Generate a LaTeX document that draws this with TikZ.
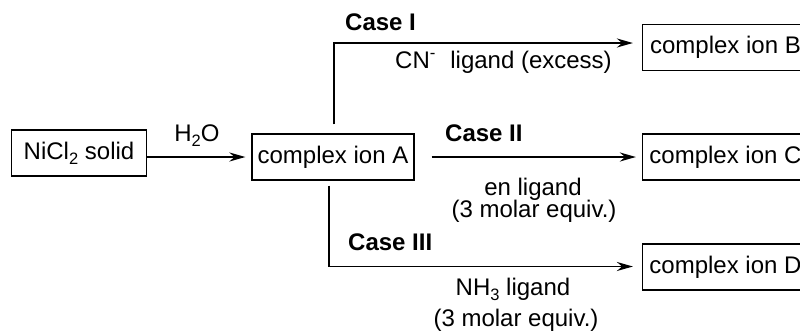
\documentclass[tikz,border=0pt]{standalone}
\usepackage{fontspec}
\setmainfont{Liberation Sans}
\usetikzlibrary{arrows.meta,calc}
\newcommand{\lowsub}[1]{\raisebox{-5pt}{\fontsize{16.5}{16.5}\selectfont #1}}
\begin{document}
\begin{tikzpicture}[x=1pt,y=-1pt,
  font=\fontsize{24}{26}\selectfont,
  box/.style={draw, line width=1.2pt, inner sep=0pt, minimum height=46pt, text height=17pt, text depth=5pt},
  arr/.style={line width=1.9pt, -{Stealth[length=16pt,width=9pt]}},
  lbl/.style={anchor=base, inner sep=0pt},
  lbll/.style={anchor=base west, inner sep=0pt},
  bold/.style={font=\fontsize{24}{26}\selectfont\bfseries}]
\useasboundingbox (0,0) rectangle (800,333);
\clip (0,0) rectangle (800,333);
\node[box, minimum width=135pt] (ni) at (79,153) {NiCl\lowsub{2} solid};
\node[box, minimum width=162pt] (A) at (333,157) {complex ion A};
\node[box, minimum width=166pt] (B) at (725.5,47.5) {complex ion B};
\node[box, minimum width=166pt] (C) at (725.5,157) {complex ion C};
\node[box, minimum width=166pt] (D) at (725.5,267) {complex ion D};
\draw[arr] (ni.east |- A.west) -- ($(A.west)+(-6,0)$);
\draw[arr] ($(A.east)+(17,0)$) -- ($(C.west)+(-6,0)$);
\draw[arr] ($(A.north)+(1,-9)$) |- ($(B.west)+(-9,-4.5)$);
\draw[arr] ($(A.south)+(-4,5)$) |- ($(D.west)+(-9,-0.5)$);
\node[lbl] (h2o) at (197,141) {H\lowsub{2}O};
\node[lbll, bold] (c1) at (345,30) {Case I};
\node[lbll] (l1) at (395,68) {CN\textsuperscript{-}\hspace{0.6em}ligand (excess)};
\node[lbll, bold] (c2) at (445,141.5) {Case II};
\node[lbl] (l2a) at (533,195) {en ligand};
\node[lbl] (l2b) at (534,217) {(3 molar equiv.)};
\node[lbll, bold] (c3) at (348,250) {Case III};
\node[lbl] (l3a) at (513,295) {NH\lowsub{3} ligand};
\node[lbl] (l3b) at (516,326) {(3 molar equiv.)};
\end{tikzpicture}
\end{document}
